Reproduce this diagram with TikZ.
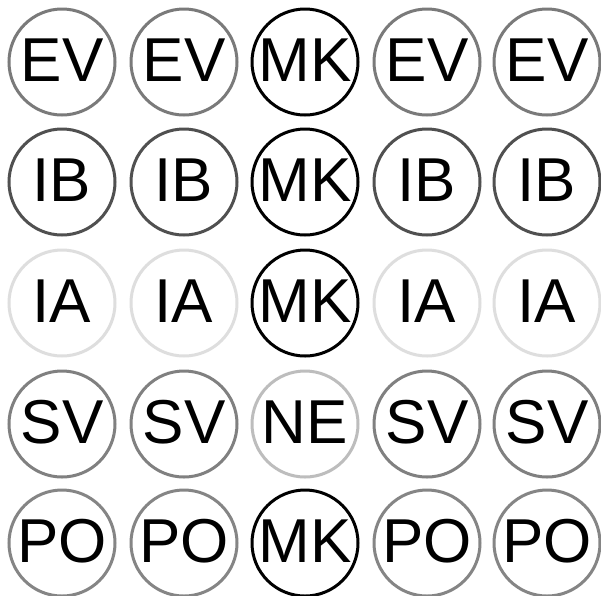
\documentclass[tikz,border=0pt]{standalone}
\usepackage{fontspec}
\setmainfont{Liberation Sans}
\definecolor{cev}{HTML}{7A7A7A}
\definecolor{cib}{HTML}{505050}
\definecolor{cia}{HTML}{DEDEDE}
\definecolor{cne}{HTML}{BDBDBD}
\definecolor{csv}{HTML}{808080}
\definecolor{cpo}{HTML}{858585}
\definecolor{cmk}{HTML}{000000}
\tikzset{
  ring/.style={circle, draw=#1, line width=3pt, minimum size=106pt, inner sep=0pt, text=black,
    font=\fontsize{62}{62}\selectfont},
  lbl/.style={inner sep=0pt, font=\fontsize{62}{62}\selectfont, text=black}
}
\begin{document}
\begin{tikzpicture}[x=1pt,y=-1pt]
\useasboundingbox (0,0) rectangle (601,595);
\fill[white] (0,0) rectangle (601,595);
\foreach \col/\cx in {1/62,2/184,3/305,4/427,5/547}{
  \foreach \row/\cy/\txt/\clr in {1/62/EV/cev,2/182/IB/cib,3/303/IA/cia,4/424/SV/csv,5/543/PO/cpo}{
    \ifnum\col=3
      \ifnum\row=4
        \node[ring=cne] (c\row\col) at (\cx,\cy) {};
        \node[lbl] (t\row\col) at (\cx,\cy-2) {NE};
      \else
        \node[ring=cmk] (c\row\col) at (\cx,\cy) {};
        \node[lbl] (t\row\col) at (\cx,\cy-2) {MK};
      \fi
    \else
      \node[ring=\clr] (c\row\col) at (\cx,\cy) {};
      \node[lbl] (t\row\col) at (\cx,\cy-2) {\txt};
    \fi
  }
}
\end{tikzpicture}
\end{document}
